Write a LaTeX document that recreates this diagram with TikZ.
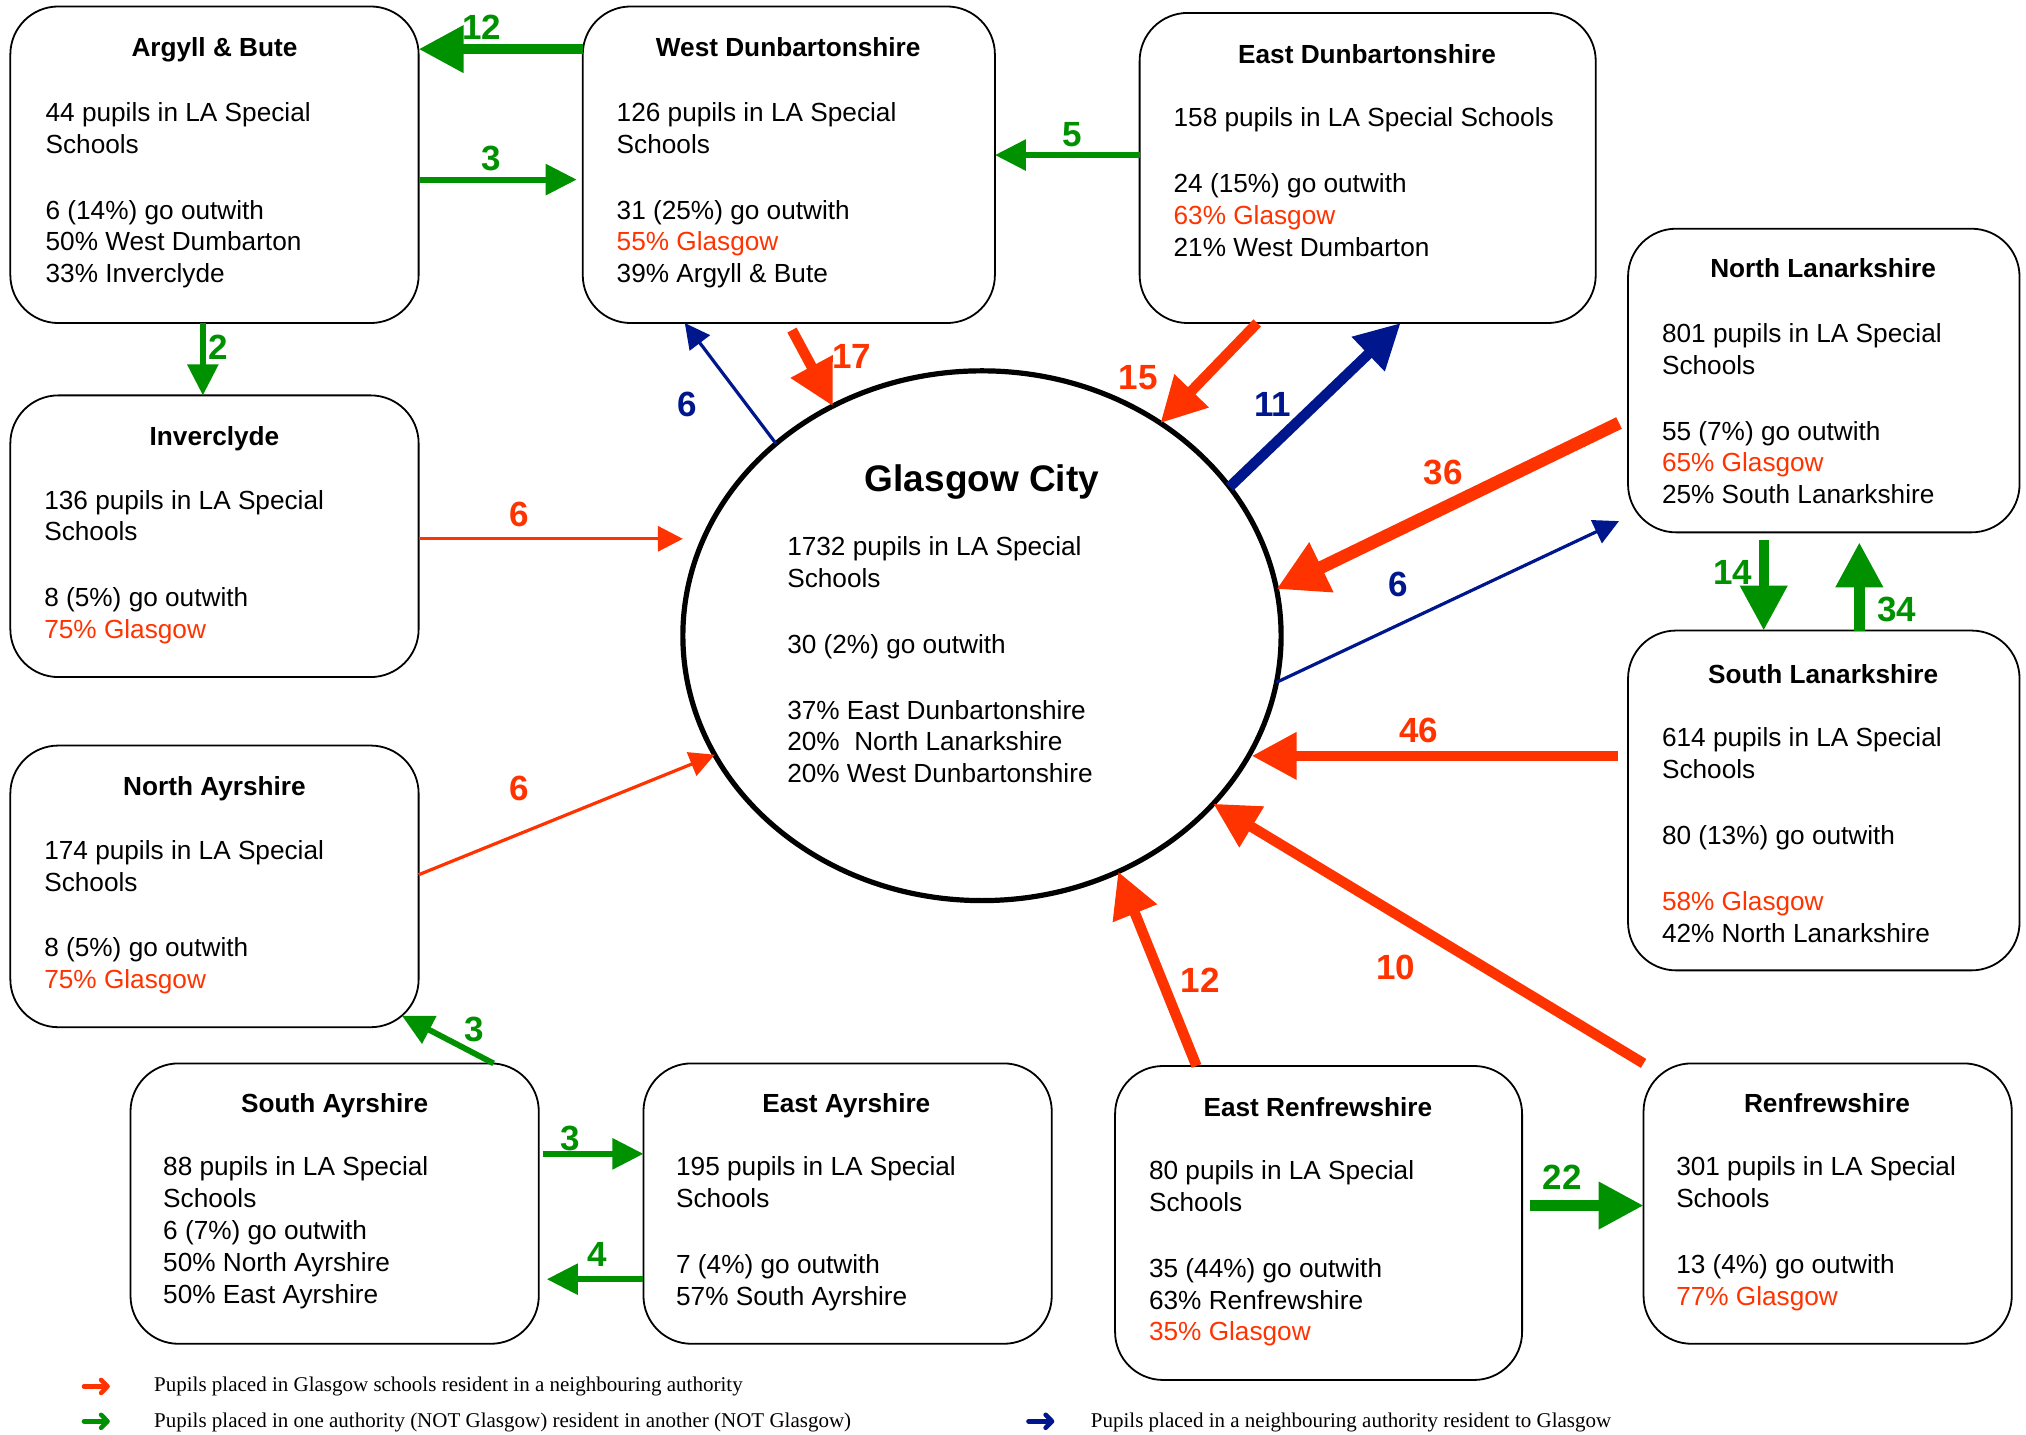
\documentclass[tikz,border=0pt]{standalone}
\usepackage{fontspec}
\setmainfont{Liberation Sans}
\newfontfamily\legfont{Liberation Serif}
\usetikzlibrary{arrows.meta,shapes.geometric}
\definecolor{gred}{RGB}{255,51,0}
\definecolor{ggreen}{RGB}{0,145,0}
\definecolor{gblue}{RGB}{0,22,140}
\newcommand\du{0.646pt}
\newcommand\bodyf{\fontsize{13.1}{15.9}\selectfont}
\newcommand\lblf{\fontsize{17.5}{20}\selectfont\bfseries}
\newcommand\tb[1]{\begin{tabular}[t]{@{}l@{}}#1\end{tabular}}
\tikzset{
  box/.style={draw, line width=0.9pt, rounded corners=24pt, inner sep=0pt, outer sep=0pt},
  body/.style={font=\bodyf, anchor=base west, inner sep=0pt},
  ttl/.style={font=\bodyf\bfseries, anchor=base, inner sep=0pt},
  lbl/.style={font=\lblf, inner sep=0pt},
  gA/.style={draw=ggreen, color=ggreen},
  rA/.style={draw=gred, color=gred},
  bA/.style={draw=gblue, color=gblue},
  thinarr/.style={line width=1.6pt, -{Triangle[length=12.5pt,width=12.5pt]}},
  medarr/.style={line width=2.9pt, -{Triangle[length=15.5pt,width=15pt]}},
  thkarr/.style={line width=5.2pt, -{Triangle[length=22.5pt,width=22.5pt]}},
  xthkarr/.style={line width=6.4pt, -{Triangle[length=25pt,width=26pt]}},
  legarr/.style={line width=2.3pt, line cap=round, -{Straight Barb[length=3.2pt,width=6.5pt,round]}},
  legtxt/.style={font=\legfont\fontsize{10.5}{12}\selectfont, anchor=base west, inner sep=0pt}
}
\begin{document}
\begin{tikzpicture}[x=0.646pt,y=-0.646pt]
\useasboundingbox (0,0) rectangle (1568,1110);

% boxes
\node[box, minimum width=316*\du, minimum height=245*\du] (ab) at (166,127.5) {};
\node[box, minimum width=319*\du, minimum height=245*\du] (wd) at (610.5,127.5) {};
\node[box, minimum width=353*\du, minimum height=240*\du] (ed) at (1058.5,130) {};
\node[box, minimum width=303*\du, minimum height=235*\du] (nl) at (1411.5,294.5) {};
\node[box, minimum width=316*\du, minimum height=218*\du] (inv) at (166,415) {};
\node[box, minimum width=316*\du, minimum height=218*\du] (na) at (166,686) {};
\node[box, minimum width=303*\du, minimum height=263*\du] (sl) at (1411.5,619.5) {};
\node[box, minimum width=316*\du, minimum height=217*\du] (sa) at (259,931.5) {};
\node[box, minimum width=316*\du, minimum height=217*\du] (ea) at (656,931.5) {};
\node[box, minimum width=315*\du, minimum height=243*\du] (er) at (1020.5,946.5) {};
\node[box, minimum width=285*\du, minimum height=217*\du] (rf) at (1414.5,931.5) {};
\node[ellipse, draw, line width=2.6pt, minimum width=463*\du, minimum height=410*\du, inner sep=0pt, outer sep=0pt] (gc) at (760,492) {};

% texts
\node[ttl] (abT) at (166,44) {Argyll \& Bute};
\node[body] (abB) at (35,94) {\tb{44 pupils in LA Special\\Schools\\[17pt]6 (14\%) go outwith\\50\% West Dumbarton\\33\% Inverclyde}};
\node[ttl] (wdT) at (610,44) {West Dunbartonshire};
\node[body] (wdB) at (477,94) {\tb{126 pupils in LA Special\\Schools\\[17pt]31 (25\%) go outwith\\{\color{gred}55\% Glasgow}\\39\% Argyll \& Bute}};
\node[ttl] (edT) at (1058,49) {East Dunbartonshire};
\node[body] (edB) at (908,98) {\tb{158 pupils in LA Special Schools\\[17pt]24 (15\%) go outwith\\{\color{gred}63\% Glasgow}\\21\% West Dumbarton}};
\node[ttl] (nlT) at (1411,215) {North Lanarkshire};
\node[body] (nlB) at (1286,265) {\tb{801 pupils in LA Special\\Schools\\[17pt]55 (7\%) go outwith\\{\color{gred}65\% Glasgow}\\25\% South Lanarkshire}};
\node[ttl] (invT) at (166,345) {Inverclyde};
\node[body] (invB) at (34,394) {\tb{136 pupils in LA Special\\Schools\\[17pt]8 (5\%) go outwith\\{\color{gred}75\% Glasgow}}};
\node[ttl] (naT) at (166,616) {North Ayrshire};
\node[body] (naB) at (34,665) {\tb{174 pupils in LA Special\\Schools\\[17pt]8 (5\%) go outwith\\{\color{gred}75\% Glasgow}}};
\node[ttl] (slT) at (1411,529) {South Lanarkshire};
\node[body] (slB) at (1286,578) {\tb{614 pupils in LA Special\\Schools\\[17pt]80 (13\%) go outwith\\[17pt]{\color{gred}58\% Glasgow}\\42\% North Lanarkshire}};
\node[ttl] (saT) at (259,861) {South Ayrshire};
\node[body] (saB) at (126,910) {\tb{88 pupils in LA Special\\Schools\\6 (7\%) go outwith\\50\% North Ayrshire\\50\% East Ayrshire}};
\node[ttl] (eaT) at (655,861) {East Ayrshire};
\node[body] (eaB) at (523,910) {\tb{195 pupils in LA Special\\Schools\\[17pt]7 (4\%) go outwith\\57\% South Ayrshire}};
\node[ttl] (erT) at (1020,864) {East Renfrewshire};
\node[body] (erB) at (889,913) {\tb{80 pupils in LA Special\\Schools\\[17pt]35 (44\%) go outwith\\63\% Renfrewshire\\{\color{gred}35\% Glasgow}}};
\node[ttl] (rfT) at (1414,861) {Renfrewshire};
\node[body] (rfB) at (1297,910) {\tb{301 pupils in LA Special\\Schools\\[17pt]13 (4\%) go outwith\\{\color{gred}77\% Glasgow}}};
\node[ttl, font=\fontsize{18.5}{22}\selectfont\bfseries] (gcT) at (760,380) {Glasgow City};
\node[body] (gcB) at (609,430) {\tb{1732 pupils in LA Special\\Schools\\[17pt]30 (2\%) go outwith\\[17pt]37\% East Dunbartonshire\\20\%\ \ North Lanarkshire\\20\% West Dunbartonshire}};

% green arrows
\draw[gA, thkarr] (wd.west |- 0,38) -- (ab.east |- 0,38);
\draw[gA, medarr, shorten >=3pt] (ab.east |- 0,139) -- (wd.west |- 0,139);
\draw[gA, medarr] (ab.south -| 157,0) -- (inv.north -| 157,0);
\draw[gA, medarr] (ed.west |- 0,120) -- (wd.east |- 0,120);
\draw[gA, thkarr, shorten <=4pt] (nl.south -| 1365,0) -- (sl.north -| 1365,0);
\draw[gA, thkarr, shorten >=5pt] (sl.north -| 1439,0) -- (nl.south -| 1439,0);
\draw[gA, medarr] (sa.north -| 382,0) -- ([shift={(-13,-9)}]na.south east);
\draw[gA, medarr, shorten <=2pt] (sa.east |- 0,893) -- (ea.west |- 0,893);
\draw[gA, medarr, shorten >=4pt] (ea.west |- 0,990) -- (sa.east |- 0,990);
\draw[gA, thkarr, shorten <=4pt] (er.east |- 0,933) -- (rf.west |- 0,933);

% red arrows
\draw[rA, thkarr, shorten <=4pt] (wd.south -| 610,0) -- (gc.123);
\draw[rA, thkarr] (ed.south -| 973,0) -- (gc.50);
\draw[rA, xthkarr, shorten <=5pt] (nl.west |- 0,324) -- (gc.9);
\draw[rA, thkarr, shorten <=5pt] (sl.west |- 0,585) -- (gc.337 |- 0,585);
\draw[rA, thinarr] (inv.east |- 0,417) -- (gc.west |- 0,417);
\draw[rA, thinarr] (na.east |- 0,677) -- (gc.204);
\draw[rA, thkarr] (er.north -| 926,0) -- (gc.300);
\draw[rA, thkarr] (rf.north west) -- (gc.324);

% blue arrows
\draw[bA, thinarr] (gc.137) -- (wd.south -| 530,0);
\draw[bA, thkarr] (gc.31) -- (ed.south -| 1084,0);
\draw[bA, thinarr, shorten >=5pt] (gc.351) -- (nl.west |- 0,400);

% labels
\node[lbl, text=ggreen] (g12) at (373,21) {12};
\node[lbl, text=ggreen] (g3a) at (380,123) {3};
\node[lbl, text=ggreen] (g2) at (169,269) {2};
\node[lbl, text=ggreen] (g5) at (830,104) {5};
\node[lbl, text=ggreen] (g14) at (1341,443) {14};
\node[lbl, text=ggreen] (g34) at (1468,472) {34};
\node[lbl, text=ggreen] (g3b) at (367,797) {3};
\node[lbl, text=ggreen] (g3c) at (441,881) {3};
\node[lbl, text=ggreen] (g4) at (462,971) {4};
\node[lbl, text=ggreen] (g22) at (1209,911) {22};
\node[lbl, text=gred] (r17) at (659,276) {17};
\node[lbl, text=gred] (r15) at (881,292) {15};
\node[lbl, text=gred] (r36) at (1117,366) {36};
\node[lbl, text=gred] (r6a) at (402,398) {6};
\node[lbl, text=gred] (r6b) at (402,610) {6};
\node[lbl, text=gred] (r46) at (1098,565) {46};
\node[lbl, text=gred] (r12) at (929,759) {12};
\node[lbl, text=gred] (r10) at (1080,749) {10};
\node[lbl, text=gblue] (b6a) at (532,313) {6};
\node[lbl, text=gblue] (b11) at (985,313) {11};
\node[lbl, text=gblue] (b6b) at (1082,452) {6};

% legend
\coordinate (lr1) at (65,1073);
\coordinate (lr2) at (85,1073);
\draw[rA, legarr] (lr1) -- (lr2);
\node[legtxt] (lt1) at (119,1077) {Pupils placed in Glasgow schools resident in a neighbouring authority};
\coordinate (lg1) at (65,1100);
\coordinate (lg2) at (85,1100);
\draw[gA, legarr] (lg1) -- (lg2);
\node[legtxt] (lt2) at (119,1105) {Pupils placed in one authority (NOT Glasgow) resident in another (NOT Glasgow)};
\coordinate (lb1) at (796,1100);
\coordinate (lb2) at (816,1100);
\draw[bA, legarr] (lb1) -- (lb2);
\node[legtxt] (lt3) at (844,1105) {Pupils placed in a neighbouring authority resident to Glasgow};
\end{tikzpicture}
\end{document}
